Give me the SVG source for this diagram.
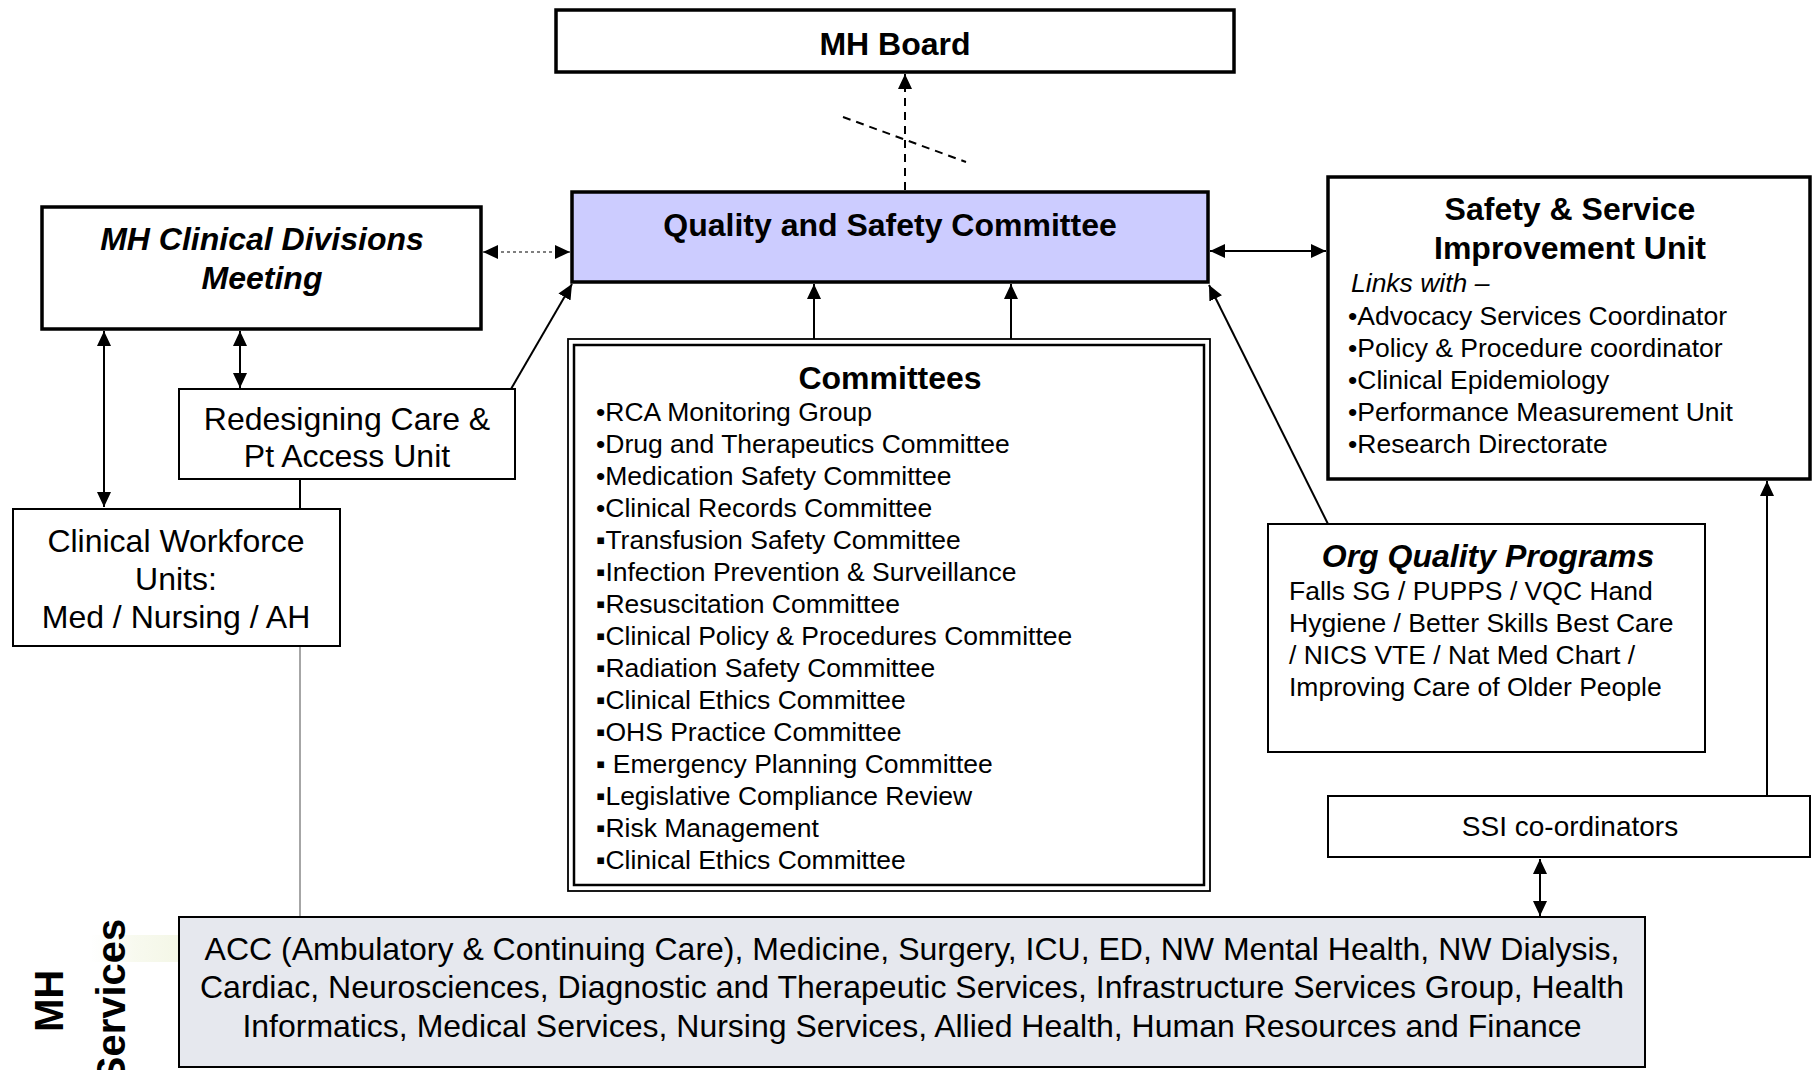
<svg xmlns="http://www.w3.org/2000/svg" width="1814" height="1070" viewBox="0 0 1814 1070">
  <style>
    text { font-family: "Liberation Sans", Arial, sans-serif; fill: #000; }
    .h { font-size: 32px; font-weight: bold; }
    .hi { font-size: 32px; font-weight: bold; font-style: italic; }
    .t32 { font-size: 32px; }
    .t26 { font-size: 26.5px; }
    .mid { text-anchor: middle; }
    .heavy { fill: #fff; stroke: #000; stroke-width: 3.5; }
    .thin { fill: #fff; stroke: #000; stroke-width: 2; }
    .con { fill: none; stroke: #000; stroke-width: 2; }
  </style>
  <defs>
    <marker id="arr" viewBox="0 0 15 14" refX="15" refY="7" markerWidth="15" markerHeight="14" markerUnits="userSpaceOnUse" orient="auto-start-reverse">
      <path d="M0,0 L15,7 L0,14 z" fill="#000"/>
    </marker>
    <linearGradient id="haze" x1="0" y1="0" x2="1" y2="0">
      <stop offset="0" stop-color="#f6f8ea" stop-opacity="0"/>
      <stop offset="0.5" stop-color="#f3f6e4" stop-opacity="0.6"/>
      <stop offset="1" stop-color="#eff3dc" stop-opacity="0.7"/>
    </linearGradient>
  </defs>

  <rect width="1814" height="1070" fill="#fff"/>

  <!-- connectors -->
  <g id="connectors">
    <line class="con" x1="905" y1="190" x2="905" y2="74" stroke-dasharray="8,6" marker-end="url(#arr)"/>
    <line class="con" x1="843" y1="117" x2="966" y2="162" stroke-dasharray="8,6"/>
    <line x1="483" y1="252" x2="570" y2="252" stroke="#555" stroke-width="1.3" stroke-dasharray="3,3" marker-start="url(#arr)" marker-end="url(#arr)"/>
    <line class="con" x1="104" y1="331" x2="104" y2="507" marker-start="url(#arr)" marker-end="url(#arr)"/>
    <line class="con" x1="240" y1="331" x2="240" y2="388" marker-start="url(#arr)" marker-end="url(#arr)"/>
    <line class="con" x1="511" y1="389" x2="572" y2="284" marker-end="url(#arr)"/>
    <line class="con" x1="300" y1="479" x2="300" y2="509"/>
    <line x1="300" y1="646" x2="300" y2="917" stroke="#888" stroke-width="1.5"/>
    <line class="con" x1="814" y1="339" x2="814" y2="284" marker-end="url(#arr)"/>
    <line class="con" x1="1011" y1="339" x2="1011" y2="284" marker-end="url(#arr)"/>
    <line class="con" x1="1210" y1="251" x2="1326" y2="251" marker-start="url(#arr)" marker-end="url(#arr)"/>
    <line class="con" x1="1328" y1="524" x2="1209" y2="285" marker-end="url(#arr)"/>
    <line class="con" x1="1767" y1="796" x2="1767" y2="481" marker-end="url(#arr)"/>
    <line class="con" x1="1540" y1="859" x2="1540" y2="916" marker-start="url(#arr)" marker-end="url(#arr)"/>
  </g>

  <g id="mh-board">
    <rect class="heavy" x="556" y="10" width="678" height="62"/>
    <text class="h mid" x="895" y="55">MH Board</text>
  </g>

  <g id="quality-safety">
    <rect x="572" y="192" width="636" height="90" fill="#ccccff" stroke="#000" stroke-width="3.5"/>
    <text class="h mid" x="890" y="236">Quality and Safety Committee</text>
  </g>

  <g id="clinical-divisions">
    <rect class="heavy" x="42" y="207" width="439" height="122"/>
    <text class="hi mid" x="262" y="250">MH Clinical Divisions</text>
    <text class="hi mid" x="262" y="289">Meeting</text>
  </g>

  <g id="redesigning-care">
    <rect class="thin" x="179" y="389" width="336" height="90"/>
    <text class="t32 mid" x="347" y="430">Redesigning Care &amp;</text>
    <text class="t32 mid" x="347" y="467">Pt Access Unit</text>
  </g>

  <g id="clinical-workforce">
    <rect class="thin" x="13" y="509" width="327" height="137"/>
    <text class="t32 mid" x="176" y="552">Clinical Workforce</text>
    <text class="t32 mid" x="176" y="590">Units:</text>
    <text class="t32 mid" x="176" y="628">Med / Nursing / AH</text>
  </g>

  <g id="committees">
    <rect x="568" y="339" width="642" height="552" fill="#fff" stroke="#000" stroke-width="1.8"/>
    <rect x="574" y="345" width="630" height="540" fill="none" stroke="#000" stroke-width="2.5"/>
    <text class="h mid" x="890" y="389">Committees</text>
    <g class="t26">
      <text x="596" y="421">•RCA Monitoring Group</text>
      <text x="596" y="453">•Drug and Therapeutics Committee</text>
      <text x="596" y="485">•Medication Safety Committee</text>
      <text x="596" y="517">•Clinical Records Committee</text>
      <text x="596" y="549">▪Transfusion Safety Committee</text>
      <text x="596" y="581">▪Infection Prevention &amp; Surveillance</text>
      <text x="596" y="613">▪Resuscitation Committee</text>
      <text x="596" y="645">▪Clinical Policy &amp; Procedures Committee</text>
      <text x="596" y="677">▪Radiation Safety Committee</text>
      <text x="596" y="709">▪Clinical Ethics Committee</text>
      <text x="596" y="741">▪OHS Practice Committee</text>
      <text x="596" y="773" xml:space="preserve">▪ Emergency Planning Committee</text>
      <text x="596" y="805">▪Legislative Compliance Review</text>
      <text x="596" y="837">▪Risk Management</text>
      <text x="596" y="869">▪Clinical Ethics Committee</text>
    </g>
  </g>

  <g id="safety-service">
    <rect class="heavy" x="1328" y="177" width="482" height="302"/>
    <text class="h mid" x="1570" y="220">Safety &amp; Service</text>
    <text class="h mid" x="1570" y="259">Improvement Unit</text>
    <text class="t26" x="1351" y="292" font-style="italic">Links with –</text>
    <g class="t26">
      <text x="1348" y="325">•Advocacy Services Coordinator</text>
      <text x="1348" y="357">•Policy &amp; Procedure coordinator</text>
      <text x="1348" y="389">•Clinical Epidemiology</text>
      <text x="1348" y="421">•Performance Measurement Unit</text>
      <text x="1348" y="453">•Research Directorate</text>
    </g>
  </g>

  <g id="org-quality">
    <rect class="thin" x="1268" y="524" width="437" height="228"/>
    <text class="hi mid" x="1488" y="567">Org Quality Programs</text>
    <g class="t26">
      <text x="1289" y="600">Falls SG / PUPPS / VQC Hand</text>
      <text x="1289" y="632">Hygiene / Better Skills Best Care</text>
      <text x="1289" y="664">/ NICS VTE / Nat Med Chart /</text>
      <text x="1289" y="696">Improving Care of Older People</text>
    </g>
  </g>

  <g id="ssi-coordinators">
    <rect class="thin" x="1328" y="796" width="482" height="61"/>
    <text class="mid" x="1570" y="836" font-size="28">SSI co-ordinators</text>
  </g>

  <g id="mh-services">
    <rect x="90" y="935" width="89" height="27" fill="url(#haze)"/>
    <text class="mid" transform="translate(63,1001) rotate(-90)" font-size="40" font-weight="bold">MH</text>
    <text class="mid" transform="translate(125,1001) rotate(-90)" font-size="40" font-weight="bold">Services</text>
    <rect x="179" y="917" width="1466" height="150" fill="#e6e8ee" stroke="#000" stroke-width="2"/>
    <text class="t32 mid" x="912" y="960">ACC (Ambulatory &amp; Continuing Care), Medicine, Surgery, ICU, ED, NW Mental Health, NW Dialysis,</text>
    <text class="t32 mid" x="912" y="998">Cardiac, Neurosciences, Diagnostic and Therapeutic Services, Infrastructure Services Group, Health</text>
    <text class="t32 mid" x="912" y="1037">Informatics, Medical Services, Nursing Services, Allied Health, Human Resources and Finance</text>
  </g>
</svg>
